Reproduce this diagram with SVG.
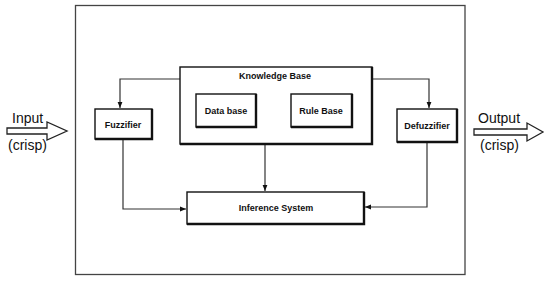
<svg xmlns="http://www.w3.org/2000/svg" width="550" height="281" viewBox="0 0 550 281">
<style>
.box{fill:#fff;stroke:#111;stroke-width:1.4}
.sh{fill:none;stroke:#111;stroke-width:2.4}
.lbl{font-family:"Liberation Sans",Arial,sans-serif;font-size:9px;font-weight:bold;fill:#111;text-anchor:middle}
.big{font-family:"Liberation Sans",Arial,sans-serif;font-size:14px;fill:#111}
.conn{fill:none;stroke:#333;stroke-width:1.2}
.frame{fill:none;stroke:#444;stroke-width:1.3}
.blk{fill:#fff;stroke:#222;stroke-width:1.3;stroke-linejoin:miter}
</style>
<defs>
<marker id="ah" viewBox="0 0 10 10" refX="10" refY="5" markerWidth="6" markerHeight="6" orient="auto" markerUnits="userSpaceOnUse">
<path d="M0,1 L10,5 L0,9 z" fill="#111"/>
</marker>
</defs>
<rect width="550" height="281" fill="#fff"/>
<rect id="frame" class="frame" x="75.5" y="5.5" width="389.5" height="269"/>

<g id="input">
<path class="blk" d="M7,128 L47,128 L47,122 L67,131 L47,140 L47,134 L7,134 Z"/>
<text class="big" x="12" y="123">Input</text>
<text class="big" x="8" y="150">(crisp)</text>
</g>
<g id="output">
<path class="blk" d="M474,129 L527,129 L527,123 L543,132 L527,141 L527,135 L474,135 Z"/>
<text class="big" x="478" y="123">Output</text>
<text class="big" x="480" y="150">(crisp)</text>
</g>

<g id="connectors">
<path class="conn" d="M180,79 L120,79 L120,108" marker-end="url(#ah)"/>
<path class="conn" d="M372,79 L429,79 L429,108" marker-end="url(#ah)"/>
<path class="conn" d="M123,139 L123,209 L186,209" marker-end="url(#ah)"/>
<path class="conn" d="M265,144 L265,191" marker-end="url(#ah)"/>
<path class="conn" d="M427,142 L427,207 L365,207" marker-end="url(#ah)"/>
</g>

<g id="knowledge-base">
<rect class="box" x="180" y="67" width="192" height="77"/>
<path class="sh" d="M372,67 L372,144 L180,144"/>
<text class="lbl" x="275" y="79">Knowledge Base</text>
</g>
<g id="data-base">
<rect class="box" x="196" y="94" width="60" height="33"/>
<path class="sh" d="M256,94 L256,127 L196,127"/>
<text class="lbl" x="226" y="114">Data base</text>
</g>
<g id="rule-base">
<rect class="box" x="291" y="94" width="61" height="33"/>
<path class="sh" d="M352,94 L352,127 L291,127"/>
<text class="lbl" x="321" y="114">Rule Base</text>
</g>
<g id="fuzzifier">
<rect class="box" x="95" y="109" width="57" height="30"/>
<path class="sh" d="M152,109 L152,139 L95,139"/>
<text class="lbl" x="123" y="128">Fuzzifier</text>
</g>
<g id="defuzzifier">
<rect class="box" x="397" y="109" width="60" height="33"/>
<path class="sh" d="M457,109 L457,142 L397,142"/>
<text class="lbl" x="427" y="129">Defuzzifier</text>
</g>
<g id="inference-system">
<rect class="box" x="187" y="192" width="177" height="32"/>
<path class="sh" d="M364,192 L364,224 L187,224"/>
<text class="lbl" x="276" y="211">Inference System</text>
</g>
</svg>
